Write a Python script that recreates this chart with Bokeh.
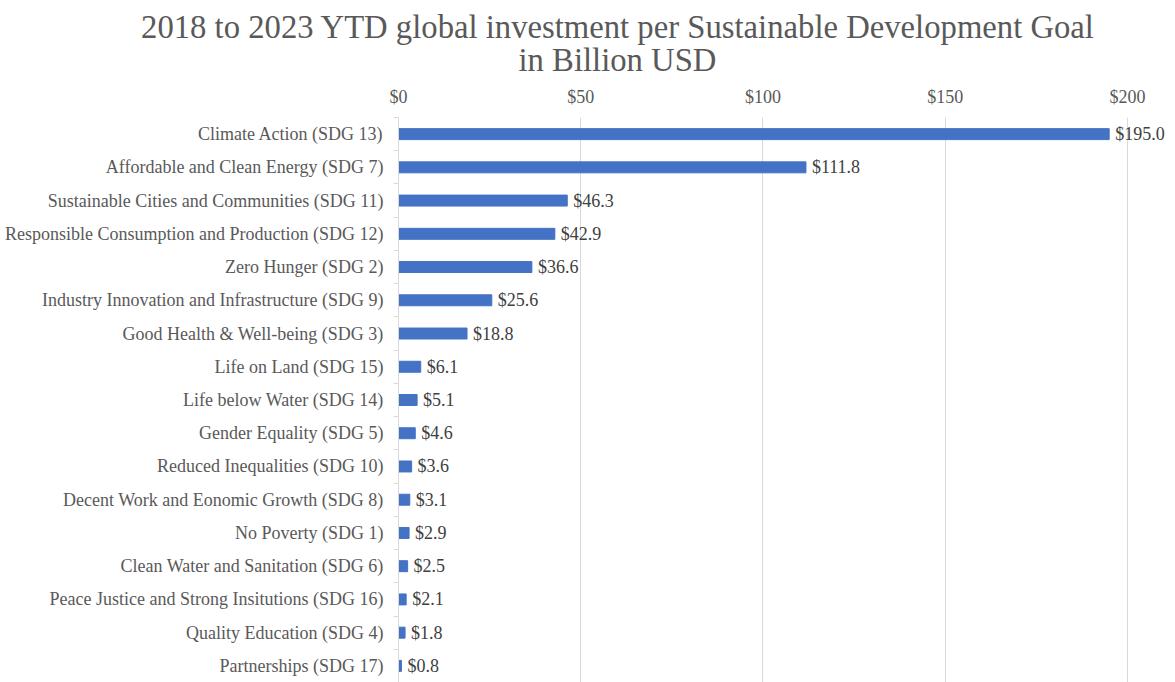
from bokeh.plotting import figure
from bokeh.layouts import column
from bokeh.models import Range1d, FixedTicker, NumeralTickFormatter, ColumnDataSource, LabelSet, Div
from bokeh.embed import file_html
from bokeh.resources import INLINE

goals = [
    "Climate Action (SDG 13)",
    "Affordable and Clean Energy (SDG 7)",
    "Sustainable Cities and Communities (SDG 11)",
    "Responsible Consumption and Production (SDG 12)",
    "Zero Hunger (SDG 2)",
    "Industry Innovation and Infrastructure (SDG 9)",
    "Good Health & Well-being (SDG 3)",
    "Life on Land (SDG 15)",
    "Life below Water (SDG 14)",
    "Gender Equality (SDG 5)",
    "Reduced Inequalities (SDG 10)",
    "Decent Work and Eonomic Growth (SDG 8)",
    "No Poverty (SDG 1)",
    "Clean Water and Sanitation (SDG 6)",
    "Peace Justice and Strong Insitutions (SDG 16)",
    "Quality Education (SDG 4)",
    "Partnerships (SDG 17)",
]
investment = [195.0, 111.8, 46.3, 42.9, 36.6, 25.6, 18.8, 6.1, 5.1, 4.6, 3.6, 3.1, 2.9, 2.5, 2.1, 1.8, 0.8]
x_ticks = [0, 50, 100, 150, 200]
title_lines = ["2018 to 2023 YTD global investment per Sustainable Development Goal", "in Billion USD"]

FONT = "Liberation Serif"
GRAY = "#595959"
W, TITLE_H, H = 1175, 80, 682

# ---- title (HTML block above the chart) ----
title_html = (
    '<div style="position:relative; left:30px; width:%dpx; text-align:center; '
    "font-family:'Liberation Serif', 'Times New Roman', serif; font-size:32.7px; line-height:33px; "
    'color:%s; padding-top:11px; white-space:nowrap;">%s<br>%s</div>'
    % (W, GRAY, title_lines[0], title_lines[1])
)
title_div = Div(text=title_html, width=W, height=TITLE_H, margin=0)

# ---- main chart ----
idx = list(range(len(goals)))
src = ColumnDataSource(dict(
    y=idx,
    v=investment,
    lbl=["$%.1f" % v for v in investment],
))

p = figure(width=W, height=H - TITLE_H, output_backend="svg", toolbar_location=None,
           x_range=Range1d(0, 211), y_range=Range1d(len(goals) - 0.5, -0.5),
           x_axis_location="above",
           min_border_left=398, min_border_right=8, min_border_bottom=0, min_border_top=117 - TITLE_H)
p.margin = 0

p.hbar(y="y", right="v", left=0, height=0.33, source=src, color="#4472C4")

labels = LabelSet(x="v", y="y", text="lbl", source=src, x_offset=6, y_offset=0,
                  text_baseline="middle", text_font=FONT, text_font_size="18px",
                  text_color="#404040")
p.add_layout(labels)

p.outline_line_color = None
p.ygrid.grid_line_color = None
p.xgrid.grid_line_color = "#d9d9d9"
p.xgrid.ticker = FixedTicker(ticks=x_ticks)

xa = p.xaxis[0]
xa.ticker = FixedTicker(ticks=x_ticks)
xa.formatter = NumeralTickFormatter(format="$0")
xa.axis_line_color = None
xa.major_tick_line_color = None
xa.minor_tick_line_color = None
xa.major_label_text_font = FONT
xa.major_label_text_font_size = "18px"
xa.major_label_text_color = GRAY
xa.major_label_standoff = 5

ya = p.yaxis[0]
ya.ticker = FixedTicker(ticks=idx, minor_ticks=[i - 0.5 for i in range(len(goals) + 1)])
ya.major_label_overrides = {i: g for i, g in enumerate(goals)}
ya.axis_line_color = "#d9d9d9"
ya.major_tick_line_color = None
ya.minor_tick_line_color = "#d9d9d9"
ya.minor_tick_out = 5
ya.minor_tick_in = 0
ya.major_label_text_font = FONT
ya.major_label_text_font_size = "18px"
ya.major_label_text_color = GRAY
ya.major_label_standoff = 9

layout = column(title_div, p, spacing=0)
open("out.html", "w").write(file_html(layout, INLINE))
